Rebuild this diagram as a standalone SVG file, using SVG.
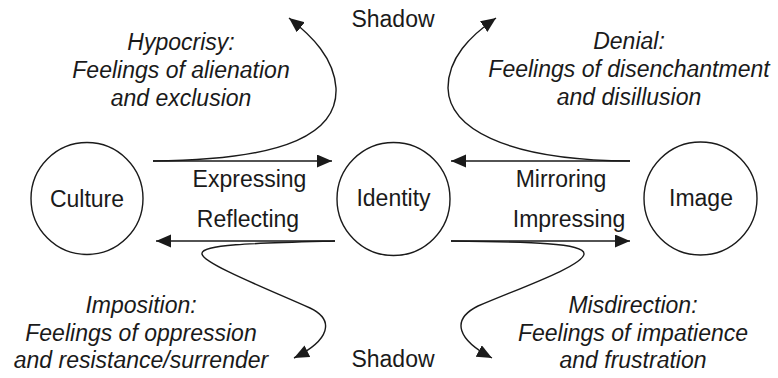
<svg xmlns="http://www.w3.org/2000/svg" width="778" height="378" viewBox="0 0 778 378">
<style>
.n{fill:none;stroke:#1a1a1a;stroke-width:1.4}
.c{fill:none;stroke:#1a1a1a;stroke-width:1.4}
.t{font-family:"Liberation Sans",Arial,sans-serif;font-size:23px;fill:#1a1a1a;text-anchor:middle}
.i{font-style:italic}
</style>
<defs>
<marker id="ah" markerUnits="userSpaceOnUse" markerWidth="16" markerHeight="14" refX="15" refY="6.5" orient="auto">
<path d="M0,0 L15,6.5 L0,13 z" fill="#1a1a1a"/>
</marker>
</defs>
<rect width="778" height="378" fill="#fff"/>
<g id="culture"><circle class="n" cx="87" cy="198.5" r="56"/><text class="t" x="87" y="207">Culture</text></g>
<g id="identity"><circle class="n" cx="393.5" cy="199" r="56.5"/><text class="t" x="393.5" y="206">Identity</text></g>
<g id="image"><circle class="n" cx="700.5" cy="198.5" r="56.5"/><text class="t" x="701" y="206">Image</text></g>
<g id="connectors">
<path class="c" d="M153,161 L332,161" marker-end="url(#ah)"/>
<path class="c" d="M630,161 L451,161" marker-end="url(#ah)"/>
<path class="c" d="M335,241 L156,241" marker-end="url(#ah)"/>
<path class="c" d="M451,241 L630,241" marker-end="url(#ah)"/>
<path class="c" d="M153,161 C290,160 338,132 336,88 C334,58 312,36 289,18" marker-end="url(#ah)"/>
<path class="c" d="M630,161 C500,160 449,126 448,88 C448,58 470,36 496,18" marker-end="url(#ah)"/>
<path class="c" d="M335,241 C260,243 200,244 202,254 C204,264 270,290 310,308 C335,320 330,340 294,358" marker-end="url(#ah)"/>
<path class="c" d="M451,241 C530,242 585,243 584,254 C583,266 520,288 478,306 C450,320 458,340 492,358" marker-end="url(#ah)"/>
</g>
<g id="labels">
<text class="t" x="393" y="27">Shadow</text>
<text class="t" x="393" y="367">Shadow</text>
<text class="t" x="249.5" y="187">Expressing</text>
<text class="t" x="248" y="227">Reflecting</text>
<text class="t" x="561" y="187">Mirroring</text>
<text class="t" x="569" y="227">Impressing</text>
<text class="t i" x="181" y="50">Hypocrisy:</text>
<text class="t i" x="181" y="78">Feelings of alienation</text>
<text class="t i" x="181" y="106">and exclusion</text>
<text class="t i" x="629" y="49">Denial:</text>
<text class="t i" x="629" y="77">Feelings of disenchantment</text>
<text class="t i" x="629" y="105">and disillusion</text>
<text class="t i" x="141" y="313">Imposition:</text>
<text class="t i" x="141" y="341">Feelings of oppression</text>
<text class="t i" x="141" y="368">and resistance/surrender</text>
<text class="t i" x="633" y="313">Misdirection:</text>
<text class="t i" x="633" y="341">Feelings of impatience</text>
<text class="t i" x="633" y="368">and frustration</text>
</g>
</svg>
